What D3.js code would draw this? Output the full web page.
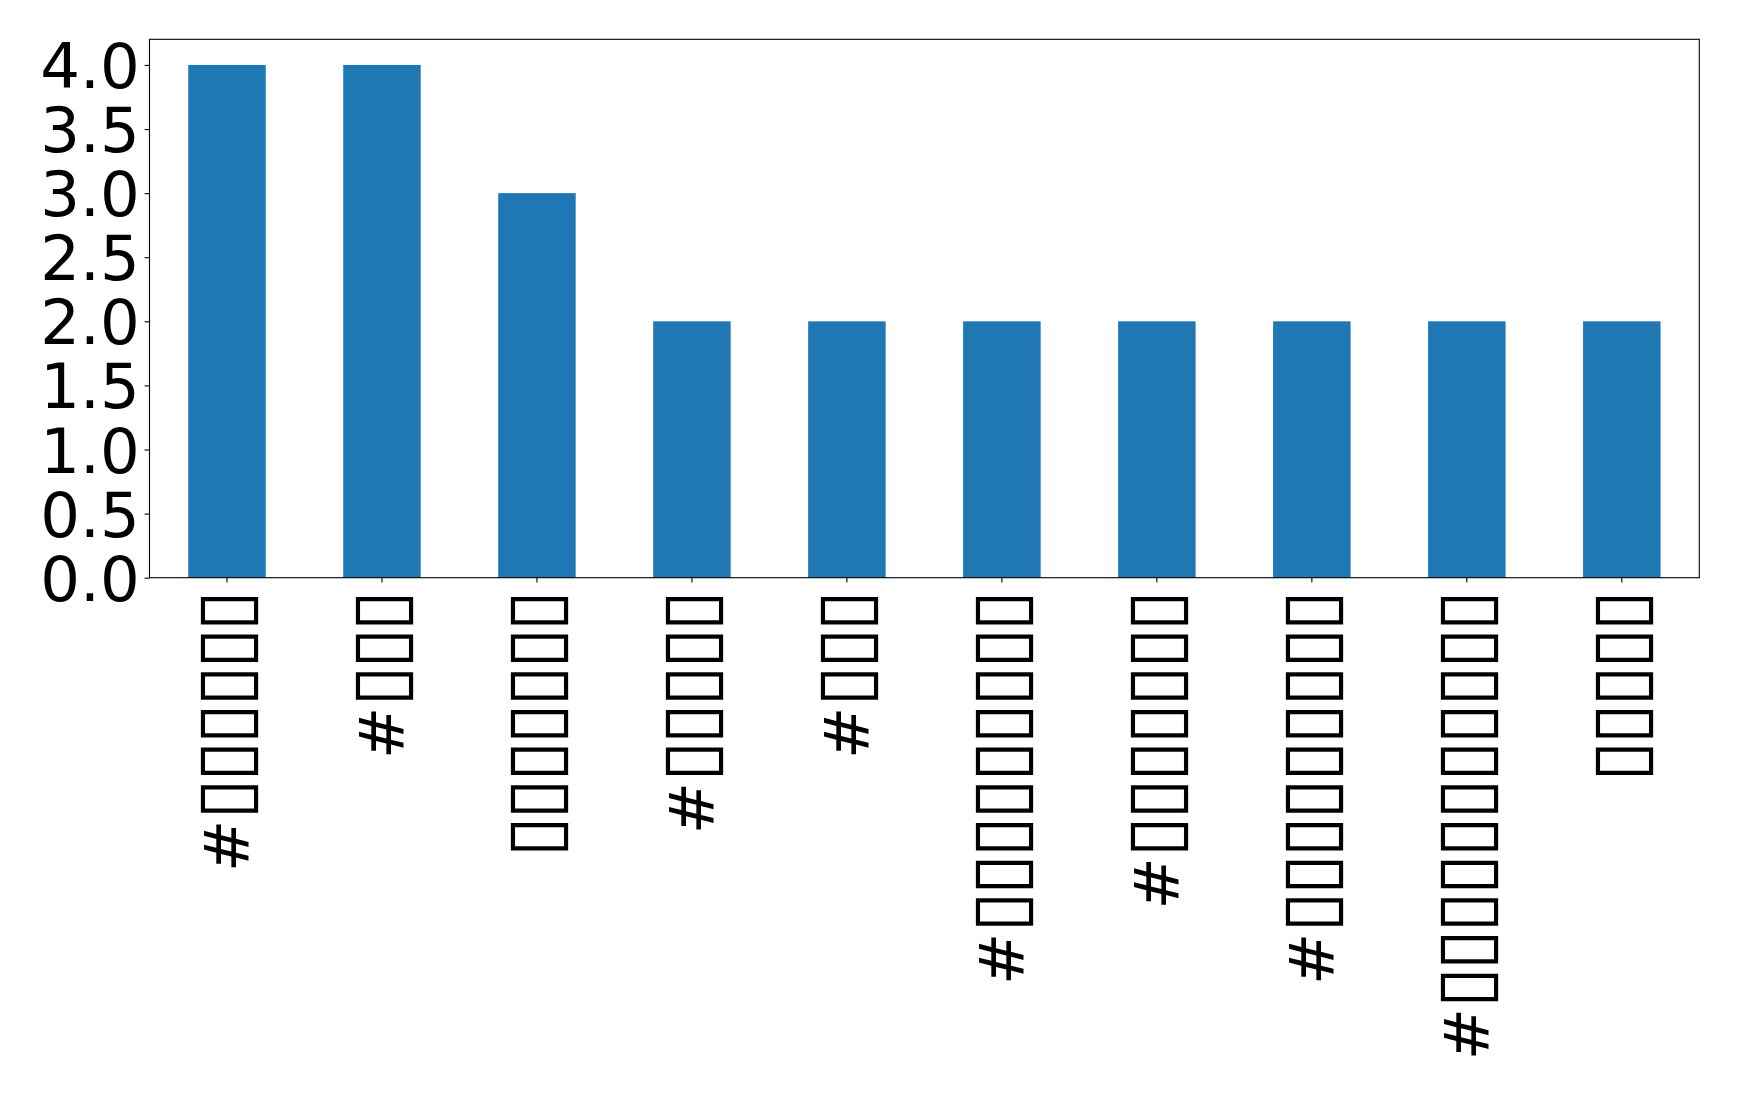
<!DOCTYPE html>
<html>
<head>
<meta charset="utf-8">
<script src="https://cdn.jsdelivr.net/npm/d3@7"></script>
<style>
  html, body { margin: 0; padding: 0; background: #fff; }
  svg { display: block; }
  text { font-family: "DejaVu Sans", sans-serif; }
</style>
</head>
<body>
<svg id="chart" width="1739" height="1093"></svg>
<script>
// Data
const categories = [
  "#▯▯▯▯▯▯",
  "#▯▯▯",
  "▯▯▯▯▯▯▯",
  "#▯▯▯▯▯",
  "#▯▯▯",
  "#▯▯▯▯▯▯▯▯▯",
  "#▯▯▯▯▯▯▯",
  "#▯▯▯▯▯▯▯▯▯",
  "#▯▯▯▯▯▯▯▯▯▯▯",
  "▯▯▯▯▯"
];
const values = [4, 4, 3, 2, 2, 2, 2, 2, 2, 2];
const yTicks = [0, 0.5, 1.0, 1.5, 2.0, 2.5, 3.0, 3.5, 4.0];

(function () {
const svg = d3.select("#chart");
const mLeft = 149.5, mRight = 1699.3, mTop = 39.3, mBottom = 577.7;
const fontSize = 62.5;
const boxFontSize = 75;
const tickLen = 4.9, pad = 4.9;

const x = d3.scaleBand()
  .domain(d3.range(categories.length))
  .range([mLeft, mRight])
  .paddingInner(0.5)
  .paddingOuter(0.25);

const y = d3.scaleLinear().domain([0, 4.2]).range([mBottom, mTop]);

// Bars
svg.append("g").selectAll("rect")
  .data(values)
  .join("rect")
  .attr("x", (d, i) => x(i))
  .attr("y", d => y(d))
  .attr("width", x.bandwidth())
  .attr("height", d => y(0) - y(d))
  .attr("fill", "#1f77b4");

// Y axis
const yAxis = svg.append("g")
  .attr("transform", `translate(${mLeft},0)`)
  .call(d3.axisLeft(y).tickValues(yTicks).tickFormat(d3.format(".1f")).tickSize(tickLen).tickPadding(pad));
yAxis.select(".domain").remove();
yAxis.selectAll("line").attr("stroke", "#000").attr("stroke-width", 1.1);
yAxis.selectAll("text")
  .attr("font-size", fontSize)
  .attr("fill", "#000")
  .attr("dy", "0.36em")
  .style("font-family", "DejaVu Sans");

// X axis
const xAxis = svg.append("g")
  .attr("transform", `translate(0,${mBottom})`)
  .call(d3.axisBottom(x).tickFormat(i => categories[i]).tickSize(tickLen).tickPadding(pad));
xAxis.select(".domain").remove();
xAxis.selectAll("line").attr("stroke", "#000").attr("stroke-width", 1.1);
xAxis.selectAll("text")
  .attr("font-size", fontSize)
  .attr("fill", "#000")
  .attr("transform", "rotate(-90)")
  .attr("x", -(tickLen + pad + 6))
  .attr("y", 0)
  .attr("dy", 21.9)
  .style("text-anchor", "end")
  .style("font-family", "DejaVu Sans")
  .each(function () {
    const t = d3.select(this);
    const s = t.text();
    t.text(null);
    // split into runs of '#' and box glyphs
    const runs = s.match(/#+|[^#]+/g) || [];
    runs.forEach(r => {
      const ts = t.append("tspan").text(r);
      if (r[0] !== "#") {
        ts.attr("font-size", boxFontSize).style("letter-spacing", "-3.6px");
      }
    });
  });

// Frame
svg.append("rect")
  .attr("x", mLeft).attr("y", mTop)
  .attr("width", mRight - mLeft).attr("height", mBottom - mTop)
  .attr("fill", "none")
  .attr("stroke", "#000")
  .attr("stroke-width", 1.1);
})();
</script>
</body>
</html>
